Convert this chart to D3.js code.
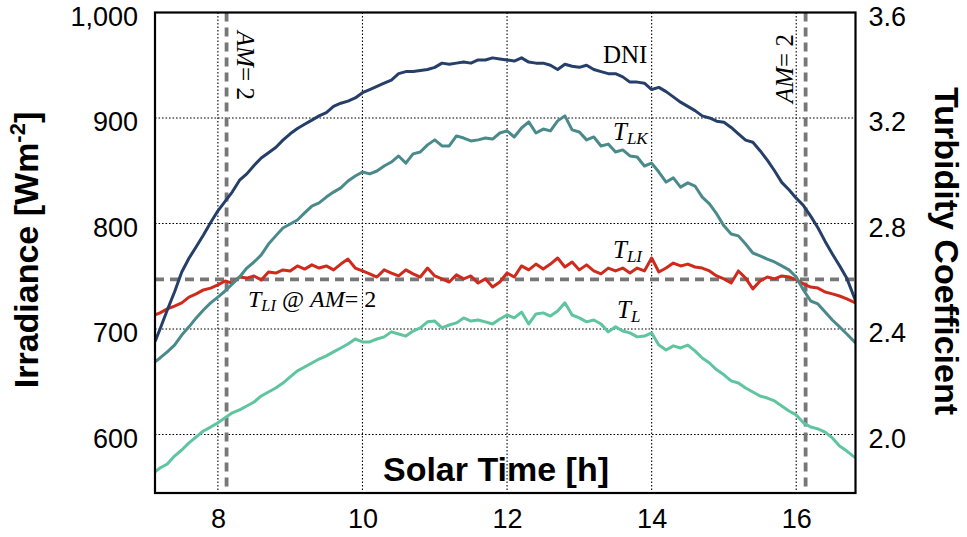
<!DOCTYPE html>
<html>
<head>
<meta charset="utf-8">
<script src="https://cdn.jsdelivr.net/npm/d3@7"></script>
<style>
  body { margin: 0; background: #ffffff; }
  svg { display: block; }
</style>
</head>
<body>
<svg id="chart" width="967" height="537"></svg>
<script>
// Solar time of each sample [h]
const hours = [7.13,
  7.2, 7.3, 7.4, 7.5, 7.6, 7.7, 7.8, 7.9, 8.0, 8.1,
  8.2, 8.3, 8.4, 8.5, 8.6, 8.7, 8.8, 8.9, 9.0, 9.1,
  9.2, 9.3, 9.4, 9.5, 9.6, 9.7, 9.8, 9.9, 10.0, 10.1,
  10.2, 10.3, 10.4, 10.5, 10.6, 10.7, 10.8, 10.9, 11.0, 11.1,
  11.2, 11.3, 11.4, 11.5, 11.6, 11.7, 11.8, 11.9, 12.0, 12.1,
  12.2, 12.3, 12.4, 12.5, 12.6, 12.7, 12.8, 12.9, 13.0, 13.1,
  13.2, 13.3, 13.4, 13.5, 13.6, 13.7, 13.8, 13.9, 14.0, 14.1,
  14.2, 14.3, 14.4, 14.5, 14.6, 14.7, 14.8, 14.9, 15.0, 15.1,
  15.2, 15.3, 15.4, 15.5, 15.6, 15.7, 15.8, 15.9, 16.0, 16.1,
  16.2, 16.3, 16.4, 16.5, 16.6, 16.7, 16.82];

// Direct normal irradiance [W m^-2]
const dni = [688,
  700, 718, 735, 754, 767, 778, 789, 801, 812, 821,
  830, 841, 847, 855, 862, 867, 872, 879, 885, 890,
  894, 898, 902, 905, 911, 914, 916, 919, 924, 927,
  930, 933, 936, 942, 944, 944, 945, 946, 948, 952,
  951, 952, 953, 952, 955, 955, 957, 956, 955, 954,
  957, 953, 952, 952, 950, 946, 951, 949, 948, 950,
  946, 944, 942, 942, 939, 934, 934, 933, 927, 929,
  925, 920, 915, 911, 907, 902, 900, 897, 896, 891,
  885, 879, 877, 869, 860, 850, 839, 832, 824, 817,
  807, 796, 783, 771, 760, 748, 727];

// Linke turbidity, Kasten formulation
const tLK = [2.275,
  2.290, 2.313, 2.339, 2.377, 2.408, 2.442, 2.472, 2.499, 2.521, 2.544,
  2.571, 2.597, 2.631, 2.654, 2.681, 2.722, 2.753, 2.783, 2.798, 2.813,
  2.840, 2.866, 2.878, 2.900, 2.919, 2.935, 2.961, 2.980, 2.995, 2.988,
  2.999, 3.018, 3.033, 3.056, 3.029, 3.064, 3.071, 3.098, 3.117, 3.094,
  3.094, 3.132, 3.124, 3.113, 3.117, 3.124, 3.120, 3.143, 3.151, 3.128,
  3.162, 3.185, 3.143, 3.158, 3.151, 3.189, 3.208, 3.155, 3.147, 3.117,
  3.128, 3.094, 3.101, 3.071, 3.079, 3.056, 3.052, 3.018, 3.029, 2.995,
  2.957, 2.973, 2.938, 2.954, 2.942, 2.900, 2.874, 2.836, 2.791, 2.760,
  2.753, 2.722, 2.688, 2.677, 2.665, 2.654, 2.639, 2.624, 2.597, 2.548,
  2.506, 2.495, 2.464, 2.434, 2.408, 2.381, 2.347];

// Linke turbidity, Ineichen formulation
const tLI = [2.453,
  2.461, 2.476, 2.487, 2.499, 2.521, 2.533, 2.548, 2.555, 2.567, 2.582,
  2.574, 2.597, 2.593, 2.601, 2.586, 2.616, 2.612, 2.624, 2.620, 2.639,
  2.627, 2.643, 2.631, 2.639, 2.624, 2.646, 2.665, 2.631, 2.620, 2.609,
  2.597, 2.624, 2.612, 2.601, 2.624, 2.609, 2.597, 2.631, 2.601, 2.590,
  2.578, 2.605, 2.590, 2.601, 2.574, 2.590, 2.559, 2.578, 2.612, 2.597,
  2.639, 2.624, 2.646, 2.627, 2.646, 2.669, 2.635, 2.654, 2.624, 2.643,
  2.620, 2.609, 2.631, 2.620, 2.631, 2.612, 2.631, 2.620, 2.669, 2.616,
  2.631, 2.650, 2.639, 2.646, 2.635, 2.631, 2.620, 2.601, 2.590, 2.574,
  2.620, 2.593, 2.552, 2.582, 2.597, 2.590, 2.601, 2.597, 2.586, 2.571,
  2.559, 2.555, 2.540, 2.533, 2.525, 2.514, 2.499];

// Linke turbidity
const tL = [1.858,
  1.873, 1.888, 1.918, 1.941, 1.968, 1.991, 2.013, 2.028, 2.044, 2.063,
  2.082, 2.093, 2.108, 2.123, 2.146, 2.161, 2.176, 2.195, 2.218, 2.241,
  2.256, 2.271, 2.286, 2.298, 2.313, 2.328, 2.343, 2.362, 2.351, 2.351,
  2.362, 2.370, 2.389, 2.381, 2.373, 2.392, 2.404, 2.427, 2.430, 2.404,
  2.415, 2.423, 2.442, 2.430, 2.434, 2.427, 2.419, 2.438, 2.453, 2.442,
  2.464, 2.419, 2.457, 2.461, 2.449, 2.468, 2.499, 2.453, 2.442, 2.427,
  2.434, 2.419, 2.389, 2.408, 2.392, 2.385, 2.370, 2.373, 2.385, 2.339,
  2.320, 2.336, 2.328, 2.339, 2.317, 2.290, 2.271, 2.245, 2.226, 2.203,
  2.195, 2.176, 2.161, 2.146, 2.138, 2.127, 2.108, 2.089, 2.074, 2.044,
  2.028, 2.021, 2.009, 1.987, 1.956, 1.937, 1.911];

// Solar times at which the air mass equals 2, and T_LI at that air mass
const amTwoHours = [8.12, 16.13];
const tLIatAM2 = 2.588;

// Tick values
const irradianceTicks = [600, 700, 800, 900, 1000];
const turbidityTicks = [2.0, 2.4, 2.8, 3.2, 3.6];
const hourTicks = [8, 10, 12, 14, 16];

// ---------------------------------------------------------------------------
const plot = { left: 155, right: 855.5, top: 12.5, bottom: 493 };
const sans = "'Liberation Sans', Arial, Helvetica, sans-serif";
const serif = "'Liberation Serif', 'Times New Roman', Times, serif";

const x = d3.scaleLinear().domain([7.13, 16.82]).range([plot.left, plot.right]);
const yIrr = d3.scaleLinear().domain([544.5, 1000]).range([plot.bottom, plot.top]);
const yTurb = d3.scaleLinear().domain([1.778, 3.6]).range([plot.bottom, plot.top]);

const svg = d3.select("#chart");

svg.append("defs").append("clipPath").attr("id", "plot-clip")
  .append("rect")
  .attr("x", plot.left).attr("y", plot.top)
  .attr("width", plot.right - plot.left).attr("height", plot.bottom - plot.top);

// Dotted grid
const grid = svg.append("g").attr("class", "grid")
  .attr("stroke", "#000").attr("stroke-width", 1.1).attr("stroke-dasharray", "1.6,1.9");
grid.selectAll("line.v").data(hourTicks).join("line").attr("class", "v")
  .attr("x1", d => x(d)).attr("x2", d => x(d))
  .attr("y1", plot.top).attr("y2", plot.bottom);
grid.selectAll("line.h").data(irradianceTicks.filter(d => d < 1000)).join("line").attr("class", "h")
  .attr("x1", plot.left).attr("x2", plot.right)
  .attr("y1", d => yIrr(d)).attr("y2", d => yIrr(d));

// Air-mass-2 reference lines
const ref = svg.append("g").attr("class", "reference")
  .attr("stroke", "#777777").attr("stroke-width", 3.8).attr("stroke-dasharray", "9,6")
  .attr("clip-path", "url(#plot-clip)");
ref.selectAll("line.am").data(amTwoHours).join("line").attr("class", "am")
  .attr("x1", d => x(d)).attr("x2", d => x(d))
  .attr("y1", plot.top).attr("y2", plot.bottom);
ref.append("line")
  .attr("x1", plot.left).attr("x2", plot.right)
  .attr("y1", yTurb(tLIatAM2)).attr("y2", yTurb(tLIatAM2));

// Series
const series = [
  { values: tLI, scale: yTurb, color: "#cf2a1b" },
  { values: tL,  scale: yTurb, color: "#5fc4a0" },
  { values: tLK, scale: yTurb, color: "#4a8a8b" },
  { values: dni, scale: yIrr,  color: "#253f69" }
];
const lines = svg.append("g").attr("class", "series").attr("clip-path", "url(#plot-clip)");
series.forEach(s => {
  const line = d3.line().x((d, i) => x(hours[i])).y(d => s.scale(d));
  lines.append("path")
    .attr("d", line(s.values))
    .attr("fill", "none")
    .attr("stroke", s.color)
    .attr("stroke-width", 3)
    .attr("stroke-linejoin", "round");
});

// Frame
svg.append("rect")
  .attr("x", plot.left).attr("y", plot.top)
  .attr("width", plot.right - plot.left).attr("height", plot.bottom - plot.top)
  .attr("fill", "none").attr("stroke", "#000").attr("stroke-width", 2.2);

// Axes
function styleAxis(g) {
  g.select(".domain").remove();
  g.selectAll(".tick line").remove();
  g.selectAll("text").attr("font-family", sans).attr("font-size", 27).attr("fill", "#000");
}
svg.append("g").attr("transform", `translate(${plot.left},0)`)
  .call(d3.axisLeft(yIrr).tickValues(irradianceTicks).tickFormat(d3.format(",")).tickSize(0).tickPadding(17))
  .call(styleAxis)
  .call(g => g.selectAll("text").attr("dy", "0.48em"));
svg.append("g").attr("transform", `translate(${plot.right},0)`)
  .call(d3.axisRight(yTurb).tickValues(turbidityTicks).tickFormat(d3.format(".1f")).tickSize(0).tickPadding(13))
  .call(styleAxis)
  .call(g => g.selectAll("text").attr("dy", "0.48em"));
svg.append("g").attr("transform", `translate(0,${plot.bottom})`)
  .call(d3.axisBottom(x).tickValues(hourTicks).tickFormat(d3.format("d")).tickSize(0).tickPadding(16))
  .call(styleAxis);

// Axis titles
const leftTitle = svg.append("text")
  .attr("transform", "translate(38,250) rotate(-90)")
  .attr("text-anchor", "middle")
  .attr("font-family", sans).attr("font-weight", "bold").attr("font-size", 34);
leftTitle.append("tspan").text("Irradiance [Wm");
leftTitle.append("tspan").attr("font-size", 22).attr("dy", -13).text("-2");
leftTitle.append("tspan").attr("dy", 13).text("]");

svg.append("text")
  .attr("transform", "translate(935,251) rotate(90)")
  .attr("text-anchor", "middle")
  .attr("font-family", sans).attr("font-weight", "bold").attr("font-size", 34)
  .text("Turbidity Coefficient");

svg.append("text")
  .attr("x", 496).attr("y", 481)
  .attr("text-anchor", "middle")
  .attr("font-family", sans).attr("font-weight", "bold").attr("font-size", 34)
  .text("Solar Time [h]");

// Series and reference labels
const notes = svg.append("g").attr("font-family", serif).attr("fill", "#000");

notes.append("text").attr("x", 603).attr("y", 63).attr("font-size", 25).text("DNI");

function turbidityLabel(xPos, yPos, sub, size) {
  const t = notes.append("text").attr("x", xPos).attr("y", yPos).attr("font-size", size);
  t.append("tspan").attr("font-style", "italic").text("T");
  t.append("tspan").attr("font-style", "italic").attr("font-size", size * 0.68).attr("dy", 4).text(sub);
  return t;
}
turbidityLabel(613, 140, "LK", 25);
turbidityLabel(613, 258, "LI", 25);
turbidityLabel(617, 318, "L", 25);

const atLabel = turbidityLabel(248, 307, "LI", 24);
atLabel.append("tspan").attr("dy", -4).text(" @ ");
atLabel.append("tspan").attr("font-style", "italic").text("AM");
atLabel.append("tspan").text("= 2");

function amLabel(transform) {
  const t = notes.append("text").attr("transform", transform).attr("font-size", 25);
  t.append("tspan").attr("font-style", "italic").text("AM");
  t.append("tspan").text("= 2");
}
amLabel("translate(237,31) rotate(90)");
amLabel("translate(793,103) rotate(-90)");
</script>
</body>
</html>
